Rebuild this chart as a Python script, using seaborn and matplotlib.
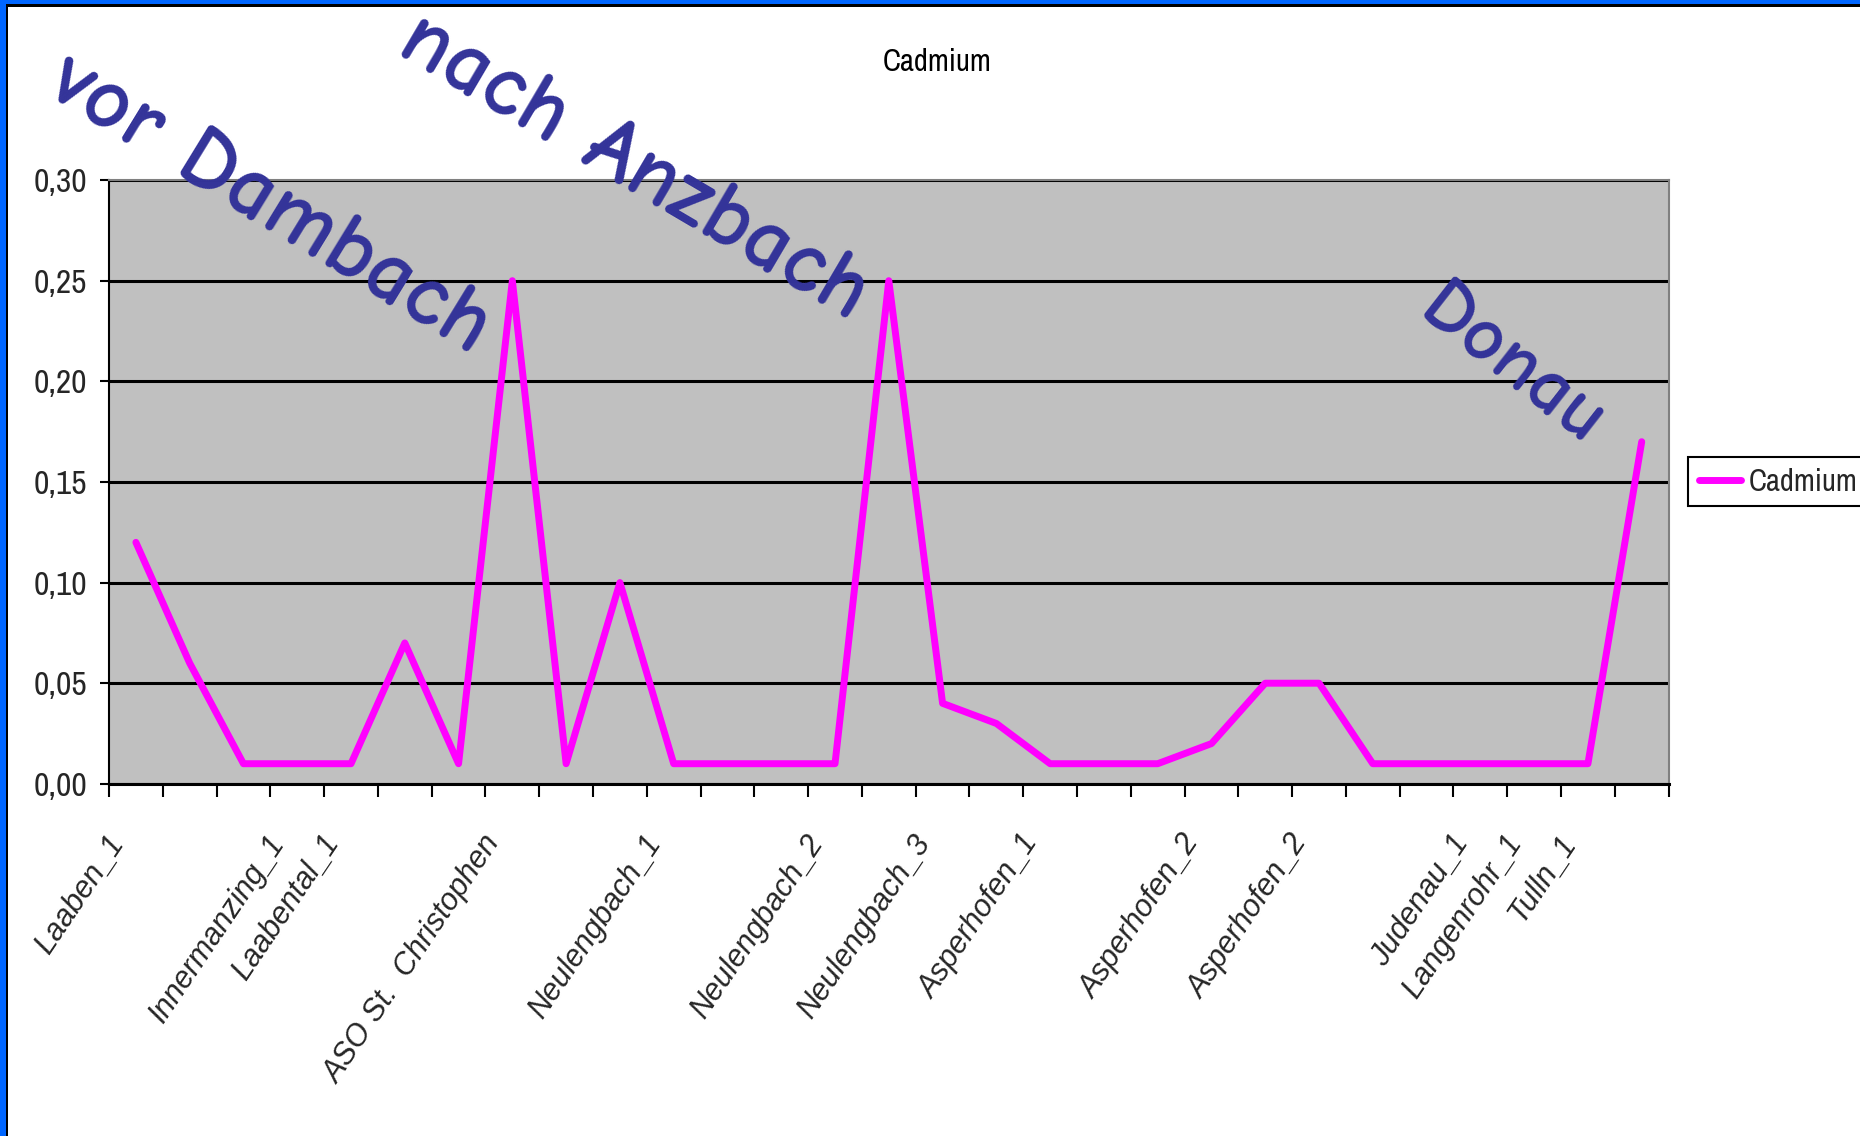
import numpy as np
import matplotlib
matplotlib.use('Agg')
import matplotlib.pyplot as plt
import seaborn as sns
from matplotlib import font_manager
from matplotlib.font_manager import FontProperties
from matplotlib.patches import Rectangle
from matplotlib.transforms import ScaledTranslation

# Data: Cadmium per measuring point (29 stations, only some labelled)
stations = ["Laaben_1", "", "", "Innermanzing_1", "Laabental_1", "", "",
            "ASO St.  Christophen", "", "", "Neulengbach_1", "", "",
            "Neulengbach_2", "", "Neulengbach_3", "", "Asperhofen_1", "", "",
            "Asperhofen_2", "", "Asperhofen_2", "", "", "Judenau_1",
            "Langenrohr_1", "Tulln_1", ""]
cadmium = [0.12, 0.06, 0.01, 0.01, 0.01, 0.07, 0.01, 0.25, 0.01, 0.10,
           0.01, 0.01, 0.01, 0.01, 0.25, 0.04, 0.03, 0.01, 0.01, 0.01,
           0.02, 0.05, 0.05, 0.01, 0.01, 0.01, 0.01, 0.01, 0.17]
y_ticks = [0.00, 0.05, 0.10, 0.15, 0.20, 0.25, 0.30]
y_tick_labels = ["0,00", "0,05", "0,10", "0,15", "0,20", "0,25", "0,30"]
notes = ["vor Dambach", "nach Anzbach", "Donau"]

sns.set_theme(style='white')
names = {f.name for f in font_manager.fontManager.ttflist}


def pick(cands, default):
    for c in cands:
        if c in names:
            return c
    return default


narrow = pick(['Liberation Sans Narrow', 'Archivo Narrow', 'PT Sans Narrow',
               'Roboto Condensed', 'Sofia Sans Condensed'], None)
if narrow:
    nsize = 23
else:
    narrow, nsize = 'Liberation Sans', 19
comic = pick(['Comic Neue', 'Comic Relief', 'Short Stack', 'Patrick Hand'],
             'DejaVu Sans')
plt.rcParams['font.family'] = [narrow, 'DejaVu Sans']

fig = plt.figure(figsize=(18.6, 11.36), dpi=100)
fig.patch.set_facecolor('white')
ax = fig.add_axes([0.0586, 0.310, 0.8385, 0.5315])
ax.set_facecolor('#C0C0C0')

pos = np.arange(len(cadmium))
sns.lineplot(x=pos, y=cadmium, color='#FF00FF', linewidth=5, ax=ax,
             label='Cadmium')

ax.set_xlim(-0.5, len(cadmium) - 0.5)
ax.set_ylim(0, 0.30)
ax.set_yticks(y_ticks)
ax.set_yticklabels(y_tick_labels,
                   fontproperties=FontProperties(family=narrow, size=nsize + 1))
ax.yaxis.grid(True, color='black', linewidth=2.2)
ax.set_axisbelow(True)

# category boundaries get ticks, centres carry the labels
ax.tick_params(axis='x', which='major', direction='out', length=9, width=1.5,
               color='black', bottom=True)
ax.tick_params(axis='x', which='minor', length=0, pad=33)
ax.tick_params(axis='y', direction='out', length=6.5, width=1.5,
               color='black', left=True, pad=9)
ax.set_xticks(np.arange(-0.5, len(cadmium), 1.0))
ax.set_xticklabels([])
ax.set_xticks(pos, minor=True)
xfont = FontProperties(family='Liberation Sans', style='italic', size=22)
ax.set_xticklabels(stations, minor=True, rotation=56, ha='right', va='top',
                   fontproperties=xfont)
shift = ScaledTranslation(-0.055, 0, fig.dpi_scale_trans)
for lab in ax.get_xticklabels(minor=True):
    lab.set_fontstyle('italic')
    lab.set_transform(lab.get_transform() + shift)

ax.spines['left'].set_color('black')
ax.spines['left'].set_linewidth(1.5)
ax.spines['bottom'].set_color('black')
ax.spines['bottom'].set_linewidth(2.2)
for s in ['top', 'right']:
    ax.spines[s].set_color('#808080')
    ax.spines[s].set_linewidth(1.5)
ax.set_xlabel('')
ax.set_ylabel('')

fig.text(0.504, 0.9455, 'Cadmium', ha='center', va='center',
         fontproperties=FontProperties(family=narrow, size=nsize - 1),
         color='black')

leg = ax.legend(loc='center left', bbox_to_anchor=(0.9075, 0.576),
                bbox_transform=fig.transFigure, frameon=True, fancybox=False,
                edgecolor='black', framealpha=1,
                prop=FontProperties(family=narrow, size=nsize - 1),
                handlelength=1.4, handletextpad=0.25, borderpad=0.35,
                borderaxespad=0)
leg.get_frame().set_linewidth(1.5)

# hand-written river annotations
note_style = dict(ha='center', va='center', color='#333399',
                  family=[comic, 'DejaVu Sans'], weight='bold',
                  rotation_mode='anchor')
fig.text(0.145, 0.820, notes[0], rotation=-31.5, fontsize=64, **note_style)
fig.text(0.341, 0.853, notes[1], rotation=-30.5, fontsize=64, **note_style)
fig.text(0.812, 0.677, notes[2], rotation=-38, fontsize=57, **note_style)

# blue slide frame on top and left
H, W = 1136, 1860
fig.add_artist(Rectangle((0, 1 - 4 / H), 1, 4 / H, transform=fig.transFigure,
                         color='#0066FF', lw=0, zorder=10))
fig.add_artist(Rectangle((0, 1 - 7 / H), 1, 3 / H, transform=fig.transFigure,
                         color='black', lw=0, zorder=9))
fig.add_artist(Rectangle((0, 0), 6 / W, 1, transform=fig.transFigure,
                         color='#0066FF', lw=0, zorder=10))
fig.add_artist(Rectangle((6 / W, 0), 2 / W, 1 - 4 / H, transform=fig.transFigure,
                         color='black', lw=0, zorder=9))

fig.savefig('out.png', dpi=100)
plt.close(fig)
